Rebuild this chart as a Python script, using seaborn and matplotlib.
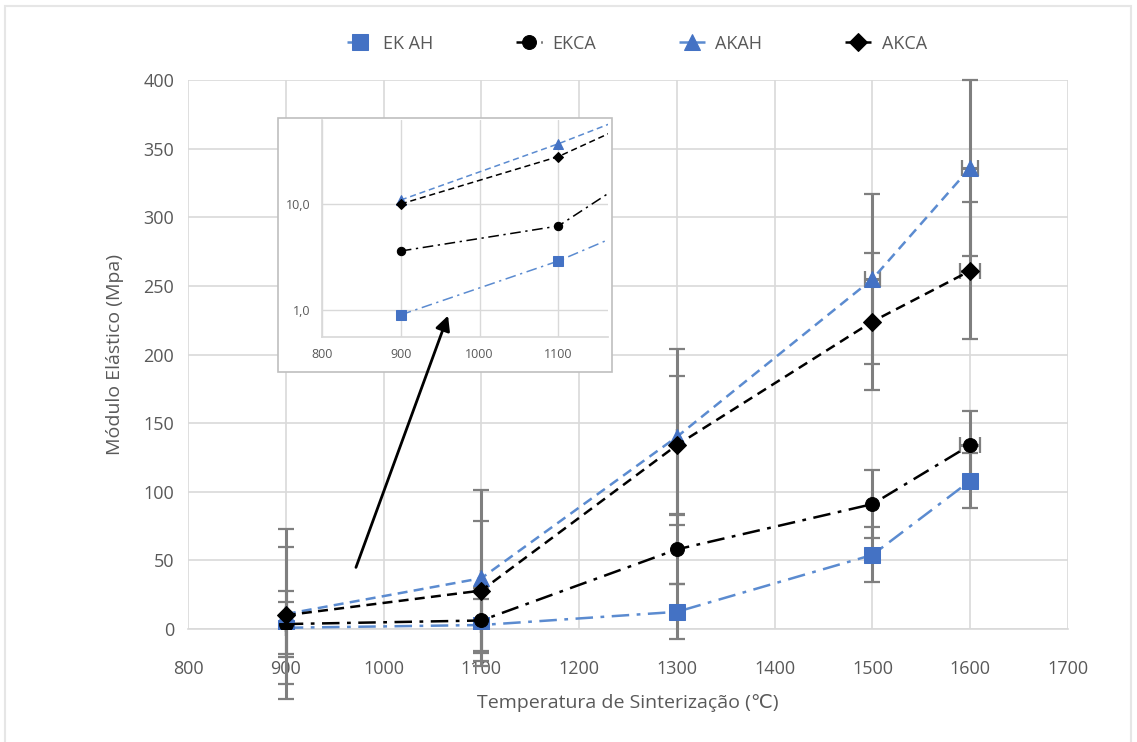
import numpy as np
import matplotlib
matplotlib.use("Agg")
import matplotlib.pyplot as plt
from matplotlib.patches import Rectangle, FancyArrowPatch
import seaborn as sns

# dados
temperaturas = [900, 1100, 1300, 1500, 1600]

ek_ah = [0.9, 2.9, 12.5, 54, 108]
ekca = [3.6, 6.2, 58, 91, 134]
akah = [10.9, 37, 140, 255, 336]
akca = [10.0, 28, 134, 224, 261]

err_ek_ah = [19, 19, 20, 20, 20]
err_ekca = [24, 24, 25, 25, 25]
err_akah = [62, 64, 64, 62, 64]
err_akca = [50, 51, 50, 50, 50]

xerr_ek_ah = [0, 0, 0, 0, 0]
xerr_ekca = [0, 0, 0, 0, 10]
xerr_akah = [0, 0, 0, 8, 8]
xerr_akca = [0, 0, 0, 0, 10]

rotulos = ["EK AH", "EKCA", "AKAH", "AKCA"]

sns.set_theme(style="whitegrid")
plt.rcParams["font.family"] = ["Open Sans", "DejaVu Sans"]

AZUL = "#4472C4"
AZUL_LINHA = "#5B8BD0"
CINZA_TXT = "#595959"
CINZA_GRADE = "#d9d9d9"
CINZA_ERRO = "#7f7f7f"

series = [
    (rotulos[0], ek_ah, err_ek_ah, xerr_ek_ah, AZUL, AZUL_LINHA, "s", 11, (0, (7, 3, 1.5, 3))),
    (rotulos[1], ekca, err_ekca, xerr_ekca, "black", "black", "o", 10, (0, (7, 3, 1.5, 3))),
    (rotulos[2], akah, err_akah, xerr_akah, AZUL, AZUL_LINHA, "^", 12, (0, (4, 2.5))),
    (rotulos[3], akca, err_akca, xerr_akca, "black", "black", "D", 9, (0, (4, 2.5))),
]

fig = plt.figure(figsize=(11.37, 7.42), dpi=100)
fig.patch.set_facecolor("white")
fig.add_artist(Rectangle((5 / 1137, -0.01), 1126 / 1137, 1 - 6 / 742 + 0.01,
                         transform=fig.transFigure, fill=False,
                         edgecolor="#e6e6e6", lw=1.5))

ax = fig.add_axes([188 / 1137, 1 - 629 / 742, 880 / 1137, 549 / 742])

for nome, vals, yerr, xerr, cor, cor_linha, mk, ms, ls in series:
    eb = ax.errorbar(temperaturas, vals, yerr=yerr, xerr=xerr, fmt="none",
                     ecolor=CINZA_ERRO, elinewidth=2.2, capsize=6, capthick=1.6,
                     zorder=4)
    for art in eb.lines[1]:
        art.set_clip_on(False)
    for art in eb.lines[2]:
        art.set_clip_on(False)
    sns.lineplot(x=temperaturas, y=vals, ax=ax, color=cor_linha,
                 linestyle=ls, linewidth=1.8, marker=mk, markersize=ms,
                 markerfacecolor=cor, markeredgecolor=cor, label=nome,
                 zorder=5)

ax.set_xlim(800, 1700)
ax.set_ylim(0, 400)
ax.set_xticks(np.arange(800, 1701, 100))
ax.set_yticks(np.arange(0, 401, 50))
ax.grid(True, color=CINZA_GRADE, lw=1.2)
for s in ["top", "right", "left"]:
    ax.spines[s].set_visible(False)
ax.spines["bottom"].set_color(CINZA_GRADE)
ax.spines["bottom"].set_linewidth(1.2)
ax.tick_params(axis="both", colors=CINZA_TXT, labelsize=13, length=0)
ax.tick_params(axis="x", pad=22)
ax.tick_params(axis="y", pad=10)
ax.set_xlabel("Temperatura de Sinterização (℃)", fontsize=14, color=CINZA_TXT, labelpad=12)
ax.set_ylabel("Módulo Elástico (Mpa)", fontsize=14, color=CINZA_TXT, labelpad=14)

ax.legend(loc="upper center", bbox_to_anchor=(0.51, 1.112), ncol=4, frameon=False,
          fontsize=13, labelcolor=CINZA_TXT, columnspacing=4.6, handlelength=1.4,
          handletextpad=0.6)

# quadro do detalhe
fig.add_artist(Rectangle((278 / 1137, 1 - 372 / 742), 334 / 1137, 254 / 742,
                         transform=fig.transFigure, facecolor="white",
                         edgecolor="#bfbfbf", lw=1.2, zorder=5))
axi = fig.add_axes([322 / 1137, 1 - 337 / 742, 286 / 1137, 217 / 742], zorder=6)
for nome, vals, yerr, xerr, cor, cor_linha, mk, ms, ls in series:
    sns.lineplot(x=temperaturas, y=vals, ax=axi, color=cor_linha,
                 linestyle=ls, linewidth=1.1, marker=mk, markersize=ms * 0.6,
                 markerfacecolor=cor, markeredgecolor=cor, legend=False)
axi.set_yscale("log")
axi.set_xlim(800, 1163)
axi.set_ylim(0.556, 62)
axi.set_xticks([800, 900, 1000, 1100])
axi.set_yticks([1, 10])
axi.set_yticklabels(["1,0", "10,0"])
axi.minorticks_off()
axi.grid(True, color=CINZA_GRADE, lw=1)
axi.set_facecolor("white")
for s in ["top", "right"]:
    axi.spines[s].set_visible(False)
for s in ["left", "bottom"]:
    axi.spines[s].set_color(CINZA_GRADE)
axi.tick_params(axis="both", colors=CINZA_TXT, labelsize=9, length=0, pad=8)
axi.set_xlabel("")
axi.set_ylabel("")

fig.add_artist(FancyArrowPatch((355 / 1137, 1 - 570 / 742), (449 / 1137, 1 - 313 / 742),
                               transform=fig.transFigure, arrowstyle="-|>",
                               mutation_scale=22, color="black", lw=2, zorder=7))

fig.savefig("out.png", dpi=100)
